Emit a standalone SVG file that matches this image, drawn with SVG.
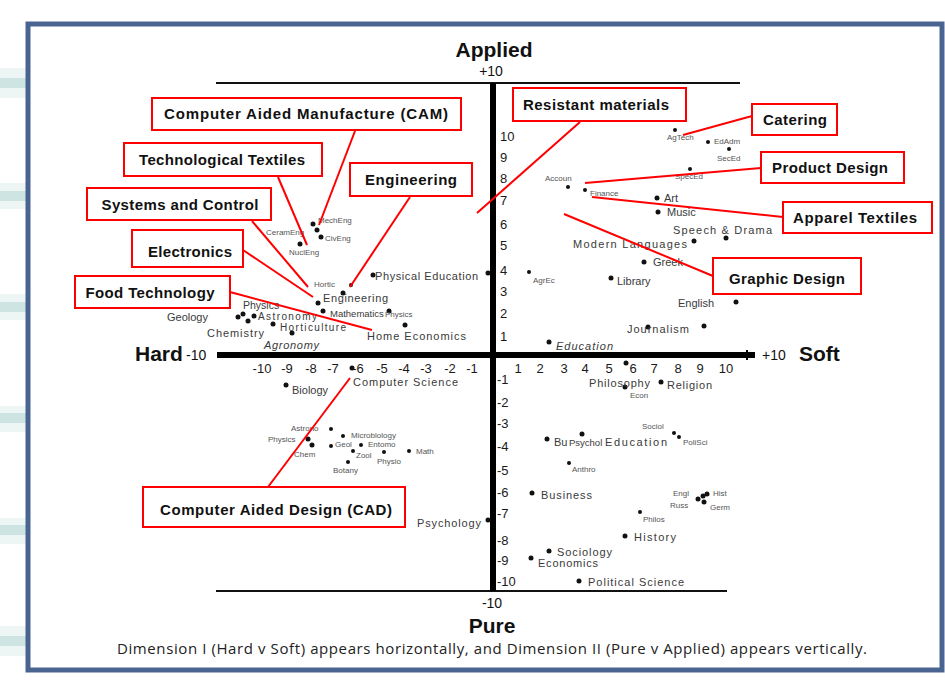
<svg xmlns="http://www.w3.org/2000/svg" width="945" height="699" viewBox="0 0 945 699">
<defs>
<style>
.box{fill:#fff;stroke:#ff0000;stroke-width:2}
.lbl{font-family:"Liberation Sans",Arial,sans-serif;font-weight:bold;font-size:15px;fill:#111}
.conn{stroke:#ff0000;stroke-width:2;fill:none}
.big{font-family:"Liberation Sans",Arial,sans-serif;font-weight:bold;font-size:21px;fill:#111}
.num{font-family:"Liberation Sans",Arial,sans-serif;font-size:14px;fill:#111}
.tk{font-family:"Liberation Sans",Arial,sans-serif;font-size:13px;fill:#1a1a1a}
.m{font-family:"Liberation Sans",Arial,sans-serif;font-size:11px;fill:#3a3a3a}
.s{font-family:"Liberation Sans",Arial,sans-serif;font-size:8px;fill:#555}
.i{font-style:italic}
.cap{font-family:"Open Sans","Liberation Sans",Arial,sans-serif;font-size:15px;fill:#222}
.bar{fill:#cde4e3}
.bar2{fill:#eef5f5}
</style>
</defs>
<rect width="945" height="699" fill="#fff"/>
<g id="side-bars">
<rect class="bar2" x="0" y="68" width="26" height="30"/><rect class="bar" x="0" y="78" width="26" height="10"/>
<rect class="bar2" x="0" y="183" width="26" height="26"/><rect class="bar" x="0" y="191" width="26" height="10"/>
<rect class="bar2" x="0" y="294" width="26" height="26"/><rect class="bar" x="0" y="302" width="26" height="10"/>
<rect class="bar2" x="0" y="406" width="26" height="26"/><rect class="bar" x="0" y="413" width="26" height="10"/>
<rect class="bar2" x="0" y="518" width="26" height="26"/><rect class="bar" x="0" y="525" width="26" height="10"/>
<rect class="bar2" x="0" y="626" width="26" height="30"/><rect class="bar" x="0" y="636" width="26" height="10"/>
</g>
<rect id="frame" x="28" y="24" width="914" height="646" fill="#fff" stroke="#4a6491" stroke-width="5"/>

<g id="axes">
<line x1="216" y1="83" x2="740" y2="83" stroke="#111" stroke-width="2"/>
<line x1="216" y1="591" x2="727" y2="591" stroke="#111" stroke-width="2"/>
<line x1="217" y1="355" x2="755" y2="355" stroke="#000" stroke-width="6"/>
<line x1="747" y1="350" x2="747" y2="360" stroke="#000" stroke-width="2"/>
<line x1="493" y1="83" x2="493" y2="591" stroke="#000" stroke-width="6"/>
<text class="big" x="494" y="57" text-anchor="middle">Applied</text>
<text class="num" x="491" y="76" text-anchor="middle">+10</text>
<text class="big" x="135" y="361">Hard</text>
<text class="num" x="186" y="360">-10</text>
<text class="num" x="762" y="360">+10</text>
<text class="big" x="799" y="361">Soft</text>
<text class="num" x="492" y="608" text-anchor="middle">-10</text>
<text class="big" x="492" y="633" text-anchor="middle">Pure</text>
</g>

<g id="ticks" class="tk" text-anchor="middle">
<text x="262" y="373">-10</text><text x="287" y="373">-9</text><text x="311" y="373">-8</text><text x="333" y="373">-7</text><text x="358" y="373">-6</text><text x="382" y="373">-5</text><text x="404" y="373">-4</text><text x="426" y="373">-3</text><text x="450" y="373">-2</text><text x="472" y="373">-1</text>
<text x="518" y="373">1</text><text x="540" y="373">2</text><text x="564" y="373">3</text><text x="585" y="373">4</text><text x="609" y="373">5</text><text x="633" y="373">6</text><text x="654" y="373">7</text><text x="678" y="373">8</text><text x="700" y="373">9</text><text x="726" y="373">10</text>
</g>
<g id="vticks" class="tk">
<text x="500" y="141">10</text><text x="500" y="162">9</text><text x="500" y="183">8</text><text x="500" y="205">7</text><text x="500" y="229">6</text><text x="500" y="250">5</text><text x="500" y="275">4</text><text x="500" y="296">3</text><text x="500" y="318">2</text><text x="500" y="341">1</text>
<text x="497" y="384">-1</text><text x="497" y="407">-2</text><text x="497" y="428">-3</text><text x="497" y="451">-4</text><text x="497" y="475">-5</text><text x="497" y="497">-6</text><text x="497" y="518">-7</text><text x="497" y="545">-8</text><text x="497" y="565">-9</text><text x="497" y="586">-10</text>
</g>

<g id="dots" fill="#111">
<circle cx="313" cy="224" r="2.5"/><circle cx="317" cy="230" r="2.5"/><circle cx="321" cy="237" r="2.5"/><circle cx="300" cy="244" r="2.5"/><circle cx="351" cy="285" r="2"/><circle cx="343" cy="293" r="2.5"/><circle cx="318" cy="303" r="2.5"/><circle cx="323" cy="311" r="2.5"/><circle cx="389" cy="311" r="2.5"/><circle cx="373" cy="275" r="2.5"/><circle cx="488" cy="273" r="2.5"/><circle cx="238" cy="317" r="2.5"/><circle cx="243" cy="314" r="2.5"/><circle cx="248" cy="321" r="2.5"/><circle cx="254" cy="316" r="2.5"/><circle cx="273" cy="324" r="2.5"/><circle cx="292" cy="333" r="2.5"/><circle cx="405" cy="325" r="2.5"/>
<circle cx="675" cy="130" r="2"/><circle cx="708" cy="142" r="2"/><circle cx="729" cy="149" r="2"/><circle cx="690" cy="169" r="2"/><circle cx="568" cy="187" r="2"/><circle cx="585" cy="190" r="2"/><circle cx="657" cy="198" r="2.5"/><circle cx="658" cy="212" r="2.5"/><circle cx="726" cy="238" r="2.5"/><circle cx="694" cy="241" r="2.5"/><circle cx="644" cy="262" r="2.5"/><circle cx="529" cy="272" r="2"/><circle cx="611" cy="278" r="2.5"/><circle cx="736" cy="302" r="2.5"/><circle cx="648" cy="327" r="2.5"/><circle cx="704" cy="326" r="2.5"/><circle cx="549" cy="342" r="2.5"/>
<circle cx="352" cy="368" r="2.5"/><circle cx="286" cy="385" r="2.5"/><circle cx="331" cy="429" r="2"/><circle cx="343" cy="436" r="2"/><circle cx="308" cy="439" r="2.5"/><circle cx="312" cy="445" r="2.5"/><circle cx="331" cy="446" r="2"/><circle cx="361" cy="445" r="2"/><circle cx="353" cy="451" r="2"/><circle cx="384" cy="452" r="2"/><circle cx="409" cy="451" r="2"/><circle cx="348" cy="462" r="2"/><circle cx="488" cy="520" r="2.5"/>
<circle cx="626" cy="363" r="2.5"/><circle cx="625" cy="387" r="2.5"/><circle cx="661" cy="382" r="2.5"/><circle cx="582" cy="434" r="2.5"/><circle cx="547" cy="439" r="2.5"/><circle cx="674" cy="433" r="2"/><circle cx="679" cy="437" r="2"/><circle cx="569" cy="463" r="2"/><circle cx="532" cy="493" r="2.5"/><circle cx="698" cy="499" r="2.5"/><circle cx="703" cy="496" r="2.5"/><circle cx="707" cy="494" r="2.5"/><circle cx="704" cy="502" r="2.5"/><circle cx="640" cy="512" r="2"/><circle cx="625" cy="536" r="2.5"/><circle cx="549" cy="551" r="2.5"/><circle cx="531" cy="558" r="2.5"/><circle cx="579" cy="581" r="2.5"/>
</g>

<g id="data-labels">
<text class="s" x="318" y="223">MechEng</text>
<text class="s" x="266" y="235">CeramEng</text>
<text class="s" x="325" y="241">CivEng</text>
<text class="s" x="289" y="255">NuclEng</text>
<text class="s" x="314" y="287">Hortic</text>
<text class="m" x="375" y="280" textLength="103">Physical Education</text>
<text class="m" x="323" y="302" textLength="65">Engineering</text>
<text class="m" x="330" y="317" style="font-size:9.5px">Mathematics</text>
<text class="s" x="385" y="317">Physics</text>
<text class="m" x="243" y="309" style="font-size:10.5px">Physics</text>
<text class="m" x="167" y="321">Geology</text>
<text class="m" x="258" y="320" textLength="59" style="font-size:10px">Astronomy</text>
<text class="m" x="280" y="331" textLength="66" style="font-size:10px">Horticulture</text>
<text class="m" x="207" y="337" textLength="57">Chemistry</text>
<text class="m i" x="264" y="349" textLength="55">Agronomy</text>
<text class="m" x="367" y="340" textLength="99">Home Economics</text>

<text class="s" x="667" y="140">AgTech</text>
<text class="s" x="714" y="144">EdAdm</text>
<text class="s" x="717" y="161">SecEd</text>
<text class="s" x="675" y="179">SpecEd</text>
<text class="s" x="545" y="181">Accoun</text>
<text class="s" x="590" y="196">Finance</text>
<text class="s" x="533" y="283">AgrEc</text>
<text class="m" x="664" y="202">Art</text>
<text class="m" x="667" y="216">Music</text>
<text class="m" x="673" y="234" textLength="99">Speech &amp; Drama</text>
<text class="m" x="573" y="248" textLength="114">Modern Languages</text>
<text class="m" x="653" y="266">Greek</text>
<text class="m" x="617" y="285">Library</text>
<text class="m" x="678" y="307">English</text>
<text class="m" x="627" y="333" textLength="62">Journalism</text>
<text class="m i" x="556" y="350" textLength="57">Education</text>

<text class="m" x="353" y="386" textLength="105">Computer Science</text>
<text class="m" x="292" y="394">Biology</text>
<text class="s" x="291" y="431">Astrono</text>
<text class="s" x="351" y="438">Microbiology</text>
<text class="s" x="268" y="442">Physics</text>
<text class="s" x="294" y="457">Chem</text>
<text class="s" x="335" y="447">Geol</text>
<text class="s" x="368" y="447">Entomo</text>
<text class="s" x="356" y="458">Zool</text>
<text class="s" x="377" y="464">Physio</text>
<text class="s" x="416" y="454">Math</text>
<text class="s" x="333" y="473">Botany</text>
<text class="m" x="417" y="527" textLength="64">Psychology</text>

<text class="m" x="589" y="387" textLength="61">Philosophy</text>
<text class="s" x="630" y="398">Econ</text>
<text class="m" x="667" y="389" textLength="45">Religion</text>
<text class="s" x="642" y="429">Sociol</text>
<text class="m" x="554" y="446">Bu</text>
<text class="m" x="569" y="446" style="font-size:9.5px">Psychol</text>
<text class="m" x="605" y="446" textLength="62">Education</text>
<text class="s" x="683" y="445">PoliSci</text>
<text class="s" x="572" y="472">Anthro</text>
<text class="m" x="541" y="499" textLength="51">Business</text>
<text class="s" x="673" y="496">Engl</text>
<text class="s" x="670" y="508">Russ</text>
<text class="s" x="713" y="496">Hist</text>
<text class="s" x="710" y="510">Germ</text>
<text class="s" x="643" y="522">Philos</text>
<text class="m" x="634" y="541" textLength="42">History</text>
<text class="m" x="557" y="556" textLength="55">Sociology</text>
<text class="m" x="538" y="567" textLength="60">Economics</text>
<text class="m" x="588" y="586" textLength="96">Political Science</text>
</g>

<g id="connectors">
<line class="conn" x1="355" y1="131" x2="319" y2="225"/>
<line class="conn" x1="278" y1="177" x2="307" y2="245"/>
<line class="conn" x1="410" y1="197" x2="350" y2="287"/>
<line class="conn" x1="252" y1="221" x2="308" y2="287"/>
<line class="conn" x1="243" y1="250" x2="313" y2="297"/>
<line class="conn" x1="230" y1="292" x2="372" y2="330"/>
<line class="conn" x1="580" y1="122" x2="477" y2="213"/>
<line class="conn" x1="752" y1="116" x2="683" y2="135"/>
<line class="conn" x1="761" y1="168" x2="585" y2="183"/>
<line class="conn" x1="783" y1="217" x2="592" y2="197"/>
<line class="conn" x1="713" y1="276" x2="564" y2="214"/>
<line class="conn" x1="268" y1="487" x2="350" y2="378"/>
</g>

<g id="cam"><rect class="box" x="152" y="98" width="309" height="32"/><text class="lbl" x="306" y="119" text-anchor="middle" textLength="284">Computer Aided Manufacture (CAM)</text></g>
<g id="tech-textiles"><rect class="box" x="124" y="143" width="198" height="33"/><text class="lbl" x="222" y="165" text-anchor="middle" textLength="166">Technological Textiles</text></g>
<g id="engineering"><rect class="box" x="350" y="163" width="122" height="33"/><text class="lbl" x="411" y="185" text-anchor="middle" textLength="92">Engineering</text></g>
<g id="systems-control"><rect class="box" x="87" y="188" width="184" height="32"/><text class="lbl" x="180" y="210" text-anchor="middle" textLength="157">Systems and Control</text></g>
<g id="electronics"><rect class="box" x="132" y="230" width="111" height="37"/><text class="lbl" x="190" y="257" text-anchor="middle" textLength="84">Electronics</text></g>
<g id="food-tech"><rect class="box" x="75" y="276" width="155" height="32"/><text class="lbl" x="150" y="298" text-anchor="middle" textLength="129">Food Technology</text></g>
<g id="resistant"><rect class="box" x="513" y="88" width="173" height="33"/><text class="lbl" x="596" y="110" text-anchor="middle" textLength="146">Resistant materials</text></g>
<g id="catering"><rect class="box" x="752" y="104" width="85" height="31"/><text class="lbl" x="795" y="125" text-anchor="middle" textLength="64">Catering</text></g>
<g id="product-design"><rect class="box" x="761" y="152" width="143" height="31"/><text class="lbl" x="830" y="173" text-anchor="middle" textLength="116">Product Design</text></g>
<g id="apparel"><rect class="box" x="783" y="202" width="149" height="31"/><text class="lbl" x="855" y="223" text-anchor="middle" textLength="124">Apparel Textiles</text></g>
<g id="graphic-design"><rect class="box" x="713" y="258" width="148" height="36"/><text class="lbl" x="787" y="284" text-anchor="middle" textLength="116">Graphic Design</text></g>
<g id="cad"><rect class="box" x="143" y="487" width="262" height="40"/><text class="lbl" x="276" y="515" text-anchor="middle" textLength="232">Computer Aided Design (CAD)</text></g>

<text class="cap" x="117" y="654" textLength="750">Dimension I (Hard v Soft) appears horizontally, and Dimension II (Pure v Applied) appears vertically.</text>
</svg>
